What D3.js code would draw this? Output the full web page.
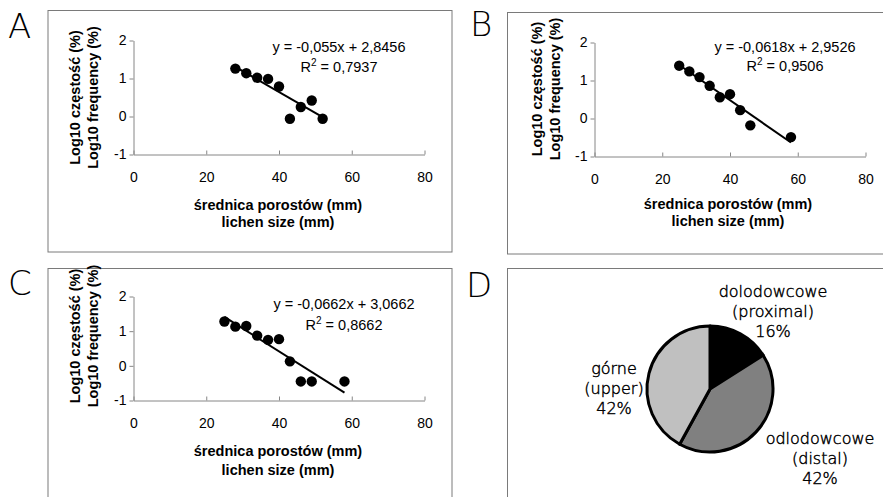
<!DOCTYPE html>
<html>
<head>
<meta charset="utf-8">
<script src="https://cdn.jsdelivr.net/npm/d3@7"></script>
<style>
body { margin: 0; background: #fff; }
svg { display: block; }
.ax text { font-family: "Liberation Sans", Arial, sans-serif; font-size: 14px; fill: #000; }
.ax path, .ax line { stroke: #868686; }
</style>
</head>
<body>
<svg width="883" height="497"></svg>
<script>
// lichen size (mm) and log10 frequency (%) per site
const sizesA = [28, 31, 34, 37, 40, 43, 46, 49, 52];
const logA = [1.26, 1.14, 1.02, 0.99, 0.79, -0.06, 0.25, 0.42, -0.06];
const sizesB = [25, 28, 31, 34, 37, 40, 43, 46, 58];
const logB = [1.39, 1.24, 1.09, 0.86, 0.56, 0.64, 0.22, -0.18, -0.49];
const sizesC = [25, 28, 31, 34, 37, 40, 43, 46, 49, 58];
const logC = [1.28, 1.13, 1.15, 0.87, 0.75, 0.77, 0.13, -0.45, -0.45, -0.45];

// trendline coefficients [slope, intercept] and R²
const fitA = [-0.055, 2.8456], r2A = "0,7937";
const fitB = [-0.0618, 2.9526], r2B = "0,9506";
const fitC = [-0.0662, 3.0662], r2C = "0,8662";

const xTicks = [0, 20, 40, 60, 80];
const yTicks = [-1, 0, 1, 2];

const pieNames = [["dolodowcowe", "(proximal)"], ["odlodowcowe", "(distal)"], ["górne", "(upper)"]];
const pieValues = [16, 42, 42];

const svg = d3.select("svg");
const fmt = v => String(v).replace(".", ",");

// panel frames and letters
const frames = [[48, 10.5, 404, 241.5], [507.5, 12.5, 400, 241.5], [48, 268.5, 404, 240], [507.5, 268.5, 400, 240]];
svg.selectAll("rect.frame").data(frames).join("rect")
    .attr("class", "frame")
    .attr("x", d => d[0]).attr("y", d => d[1])
    .attr("width", d => d[2]).attr("height", d => d[3])
    .attr("fill", "none").attr("stroke", "#7a7a7a");

const letters = [["A", 8, 38], ["B", 470, 36], ["C", 8, 295], ["D", 466, 297]];
svg.selectAll("text.letter").data(letters).join("text")
    .attr("class", "letter")
    .attr("x", d => d[1]).attr("y", d => d[2])
    .attr("font-family", "'DejaVu Sans', sans-serif")
    .attr("font-weight", 200)
    .attr("font-size", 34)
    .text(d => d[0]);

function scatter(xs, ys, fit, r2, o) {
    const x = d3.scaleLinear().domain([0, 80]).range(o.xr);
    const y = d3.scaleLinear().domain([-1, 2]).range(o.yr);
    const g = svg.append("g");

    g.append("g").attr("class", "ax")
        .attr("transform", `translate(${o.xr[0]},0)`)
        .call(d3.axisLeft(y).tickValues(yTicks).tickFormat(d => String(d))
            .tickSizeInner(4).tickSizeOuter(0).tickPadding(3));

    g.append("g").attr("class", "ax")
        .attr("transform", `translate(0,${o.yr[0]})`)
        .call(d3.axisBottom(x).tickValues(xTicks).tickFormat(d => String(d))
            .tickSizeInner(-4).tickSizeOuter(0).tickPadding(18));

    g.selectAll("circle").data(xs).join("circle")
        .attr("cx", d => x(d))
        .attr("cy", (d, i) => y(ys[i]))
        .attr("r", 5.2)
        .attr("fill", "#000");

    const x0 = d3.min(xs), x1 = d3.max(xs);
    g.append("line")
        .attr("x1", x(x0)).attr("y1", y(fit[0] * x0 + fit[1]))
        .attr("x2", x(x1)).attr("y2", y(fit[0] * x1 + fit[1]))
        .attr("stroke", "#000").attr("stroke-width", 2);

    const txt = g.append("g")
        .attr("font-family", "'Liberation Sans', Arial, sans-serif")
        .attr("font-size", 14.5)
        .attr("text-anchor", "middle");
    txt.append("text")
        .attr("x", o.eq[0]).attr("y", o.eq[1] + 5)
        .text(`y = ${fmt(fit[0])}x + ${fmt(fit[1])}`);
    const r = txt.append("text").attr("x", o.eq[0]).attr("y", o.eq[2] + 5);
    r.append("tspan").text("R");
    r.append("tspan").attr("font-size", 10).attr("dy", -6).text("2");
    r.append("tspan").attr("dy", 6).text(` = ${r2}`);

    const ttl = g.append("g")
        .attr("font-family", "'Liberation Sans', Arial, sans-serif")
        .attr("font-size", 14.5)
        .attr("font-weight", "bold")
        .attr("text-anchor", "middle");
    ttl.append("text").attr("x", o.xt[0]).attr("y", o.xt[1] + 5).text("średnica porostów (mm)");
    ttl.append("text").attr("x", o.xt[0]).attr("y", o.xt[2] + 5).text("lichen size (mm)");
    ttl.append("text")
        .attr("transform", `translate(${o.yt[0] + 5},${o.yt[2]}) rotate(-90)`)
        .text("Log10 częstość (%)");
    ttl.append("text")
        .attr("transform", `translate(${o.yt[1] + 5},${o.yt[2]}) rotate(-90)`)
        .text("Log10 frequency (%)");
}

scatter(sizesA, logA, fitA, r2A, {
    xr: [133.5, 424.5], yr: [154.5, 40.5],
    eq: [339, 46.5, 66.5], xt: [278, 205, 222], yt: [75, 93, 97.5]
});
scatter(sizesB, logB, fitB, r2B, {
    xr: [594.5, 865.5], yr: [156.5, 42.5],
    eq: [785, 46.5, 65.5], xt: [728, 204, 221], yt: [537, 555, 89]
});
scatter(sizesC, logC, fitC, r2C, {
    xr: [133.5, 424.5], yr: [400.5, 296.5],
    eq: [344, 303.5, 325], xt: [278, 451, 470], yt: [75, 93, 336]
});

// pie D
const pieColors = ["#000000", "#808080", "#c0c0c0"];
const pie = d3.pie().sort(null)(pieValues);
const arc = d3.arc().innerRadius(0).outerRadius(63);
const pg = svg.append("g").attr("transform", "translate(710,389)");
pg.selectAll("path").data(pie).join("path")
    .attr("d", arc)
    .attr("fill", (d, i) => pieColors[i])
    .attr("stroke", "#000")
    .attr("stroke-width", 3)
    .attr("stroke-linejoin", "round");

const labelPos = [[773, 291.5], [820, 438.5], [614, 368.5]];
pieNames.forEach((n, i) => {
    const t = svg.append("text")
        .attr("font-family", "'DejaVu Sans', sans-serif")
        .attr("font-weight", 200)
        .attr("font-size", 16)
        .attr("fill", "#000")
        .attr("stroke", "#000")
        .attr("stroke-width", 0.45)
        .attr("text-anchor", "middle");
    const lines = [n[0], n[1], pieValues[i] + "%"];
    lines.forEach((s, k) => {
        t.append("tspan")
            .attr("x", labelPos[i][0])
            .attr("y", labelPos[i][1] + 5 + k * 20)
            .text(s);
    });
});
</script>
</body>
</html>
